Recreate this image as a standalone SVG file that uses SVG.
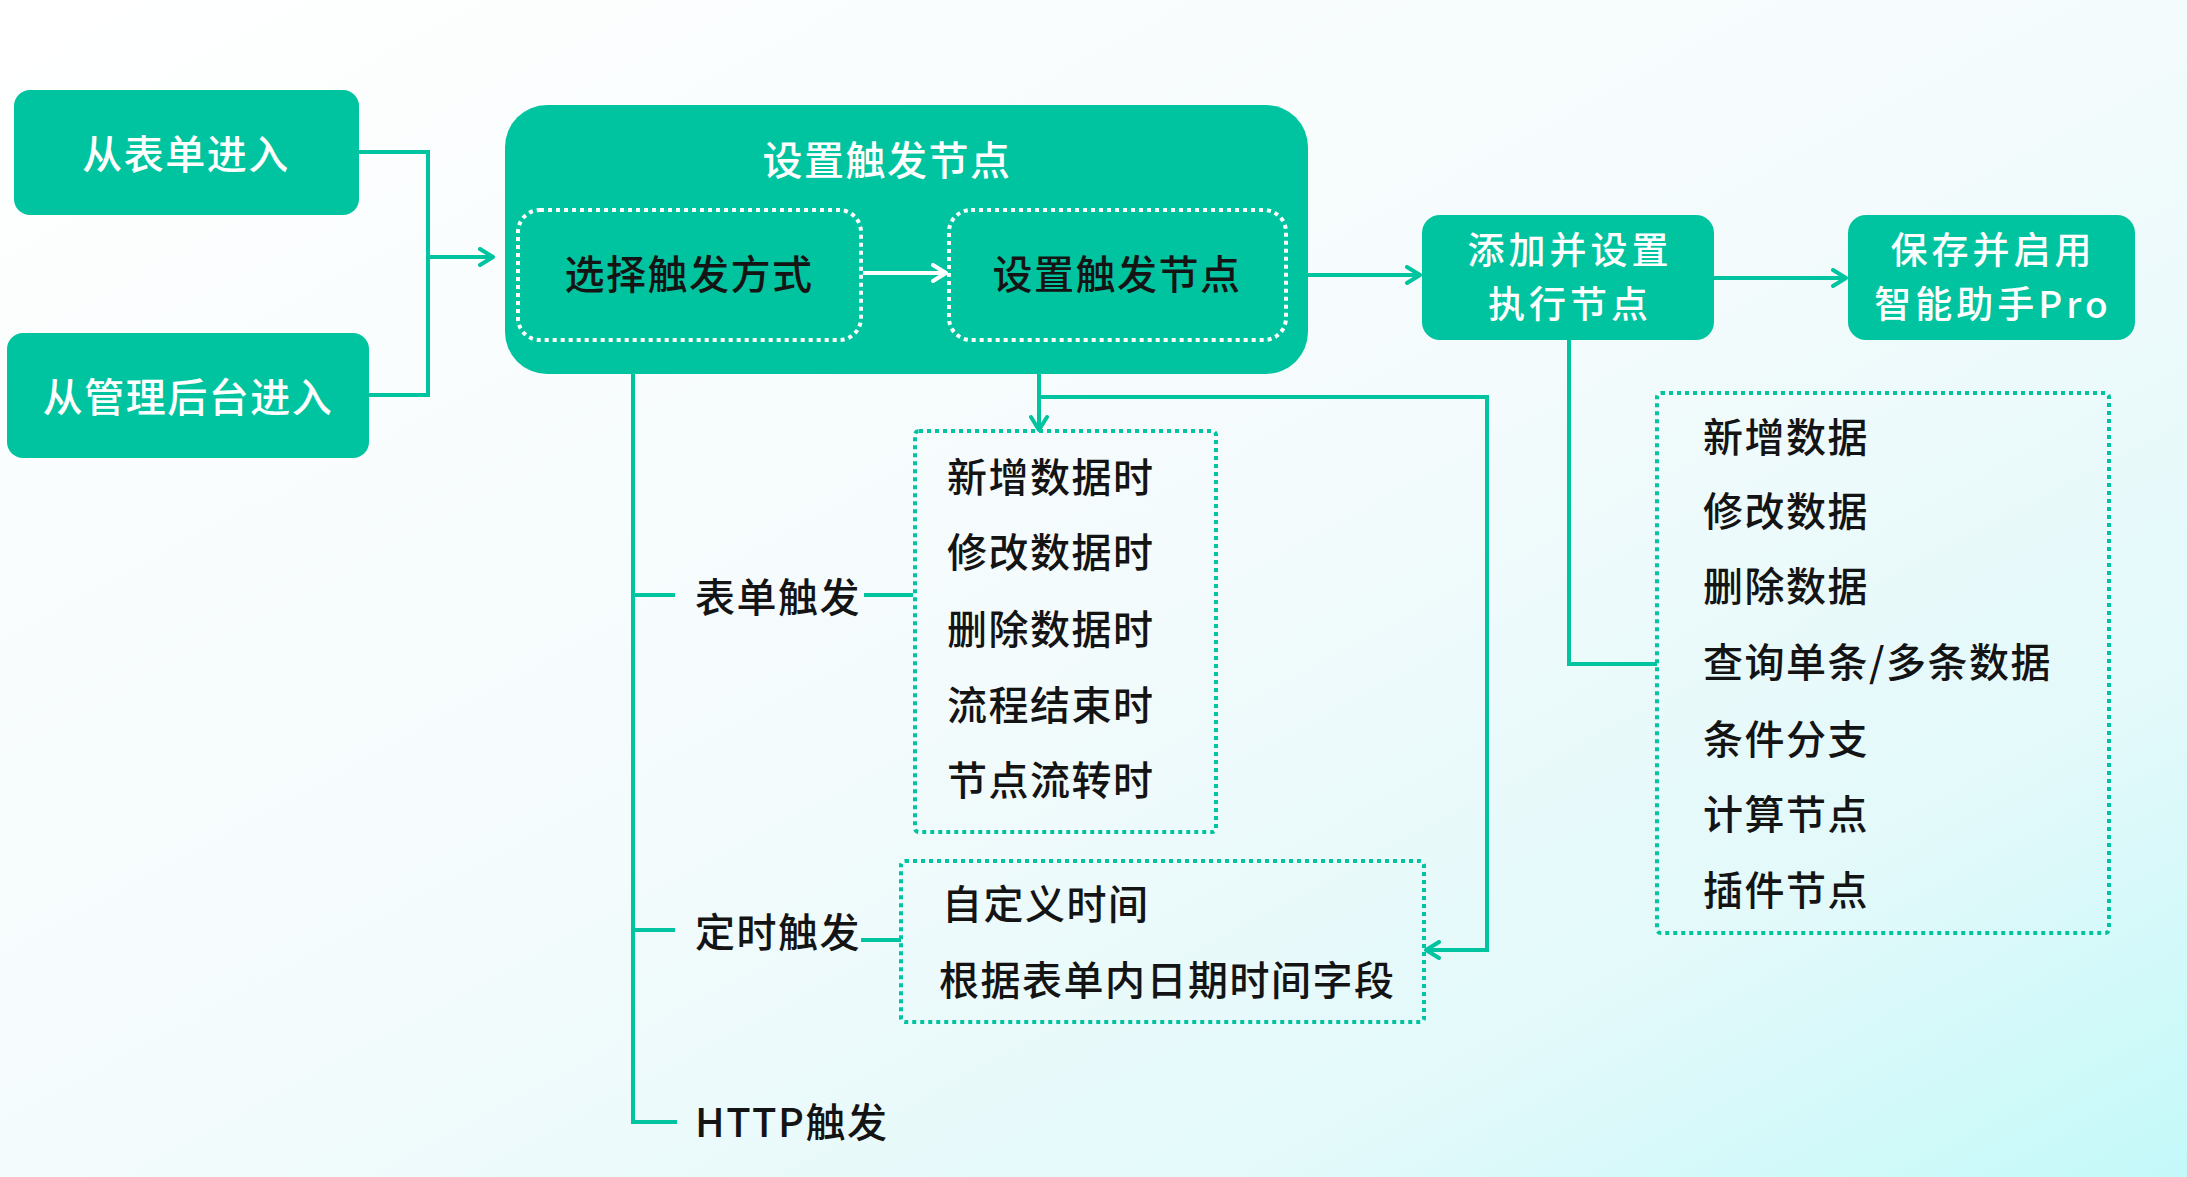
<svg xmlns="http://www.w3.org/2000/svg" width="2187" height="1177" viewBox="0 0 2187 1177">
<defs>
<linearGradient id="bg" x1="0" y1="0" x2="1" y2="1">
<stop offset="0" stop-color="#ffffff"/>
<stop offset="0.5" stop-color="#f4fbfc"/>
<stop offset="0.8" stop-color="#e2f9fa"/>
<stop offset="1" stop-color="#c4f9f9"/>
</linearGradient>
<marker id="arr" viewBox="0 0 20 20" refX="17" refY="10" markerWidth="20" markerHeight="20" markerUnits="userSpaceOnUse" orient="auto">
<path d="M4,2 L17,10 L4,18" fill="none" stroke="#00c4a0" stroke-width="4" stroke-linecap="round" stroke-linejoin="round"/>
</marker>
<marker id="arrw" viewBox="0 0 20 20" refX="17" refY="10" markerWidth="20" markerHeight="20" markerUnits="userSpaceOnUse" orient="auto">
<path d="M4,2 L17,10 L4,18" fill="none" stroke="#ffffff" stroke-width="4" stroke-linecap="round" stroke-linejoin="round"/>
</marker>
</defs>
<style>
.box{fill:#00c4a0}
.dw{fill:none;stroke:#ffffff;stroke-width:4;stroke-dasharray:4 4}
.dt{fill:none;stroke:#00c4a0;stroke-width:4;stroke-dasharray:4 4}
.ln{fill:none;stroke:#00c4a0;stroke-width:4}
text{font-family:"Noto Sans CJK SC","Noto Sans",sans-serif;font-size:40px;dominant-baseline:central;letter-spacing:1.5px;font-weight:500}
.w{fill:#ffffff;text-anchor:middle}
.w2{fill:#ffffff;text-anchor:middle;font-size:37px;letter-spacing:4px}
.k{fill:#141414}
.km{fill:#141414;text-anchor:middle}
</style>
<rect width="2187" height="1177" fill="url(#bg)"/>

<g id="node-form-entry">
<rect class="box" x="14" y="90" width="345" height="125" rx="16"/>
<text class="w" x="186" y="152">从表单进入</text>
</g>
<g id="node-admin-entry">
<rect class="box" x="7" y="333" width="362" height="125" rx="16"/>
<text class="w" x="188" y="395">从管理后台进入</text>
</g>
<g id="node-trigger-group">
<rect class="box" x="505" y="105" width="803" height="269" rx="42"/>
<text class="w" x="887" y="158">设置触发节点</text>
</g>
<g id="node-choose-trigger">
<rect class="dw" x="518" y="210" width="343" height="130" rx="22"/>
<text class="km" x="689" y="272">选择触发方式</text>
</g>
<g id="node-set-trigger">
<rect class="dw" x="949" y="210" width="337" height="130" rx="22"/>
<text class="km" x="1117" y="272">设置触发节点</text>
</g>
<g id="node-exec">
<rect class="box" x="1422" y="215" width="292" height="125" rx="18"/>
<text class="w2" x="1570" y="248">添加并设置</text>
<text class="w2" x="1570" y="302">执行节点</text>
</g>
<g id="node-save">
<rect class="box" x="1848" y="215" width="287" height="125" rx="18"/>
<text class="w2" x="1993" y="248">保存并启用</text>
<text class="w2" x="1993" y="302">智能助手Pro</text>
</g>
<g id="node-form-trigger">
<text class="k" x="695" y="595">表单触发</text>
</g>
<g id="node-timer-trigger">
<text class="k" x="695" y="930">定时触发</text>
</g>
<g id="node-http-trigger">
<text class="k" x="695" y="1120">HTTP触发</text>
</g>
<g id="node-form-events">
<rect class="dt" x="915" y="431" width="301" height="401" rx="4"/>
<text class="k" x="947" y="475">新增数据时</text>
<text class="k" x="947" y="550">修改数据时</text>
<text class="k" x="947" y="627">删除数据时</text>
<text class="k" x="947" y="703">流程结束时</text>
<text class="k" x="947" y="778">节点流转时</text>
</g>
<g id="node-timer-options">
<rect class="dt" x="901" y="861" width="523" height="161" rx="4"/>
<text class="k" x="942" y="902">自定义时间</text>
<text class="k" x="939" y="978">根据表单内日期时间字段</text>
</g>
<g id="node-exec-list">
<rect class="dt" x="1657" y="393" width="452" height="540" rx="4"/>
<text class="k" x="1703" y="435">新增数据</text>
<text class="k" x="1703" y="509">修改数据</text>
<text class="k" x="1703" y="584">删除数据</text>
<text class="k" x="1703" y="660">查询单条/多条数据</text>
<text class="k" x="1703" y="737">条件分支</text>
<text class="k" x="1703" y="812">计算节点</text>
<text class="k" x="1703" y="888">插件节点</text>
</g>

<g id="connectors">
<path class="ln" d="M359,152 H428 V395 H369"/>
<path class="ln" d="M428,257 H493" marker-end="url(#arr)"/>
<path d="M863,273 H946" fill="none" stroke="#ffffff" stroke-width="4" marker-end="url(#arrw)"/>
<path class="ln" d="M1308,275 H1420" marker-end="url(#arr)"/>
<path class="ln" d="M1714,278 H1846" marker-end="url(#arr)"/>
<path class="ln" d="M1569,340 V664 H1657"/>
<path class="ln" d="M633,374 V1122 H677"/>
<path class="ln" d="M633,595 H675"/>
<path class="ln" d="M633,930 H675"/>
<path class="ln" d="M864,595 H913"/>
<path class="ln" d="M861,940 H901"/>
<path class="ln" d="M1039,374 V430" marker-end="url(#arr)"/>
<path class="ln" d="M1039,397 H1487 V950 H1426" marker-end="url(#arr)"/>
</g>
</svg>
